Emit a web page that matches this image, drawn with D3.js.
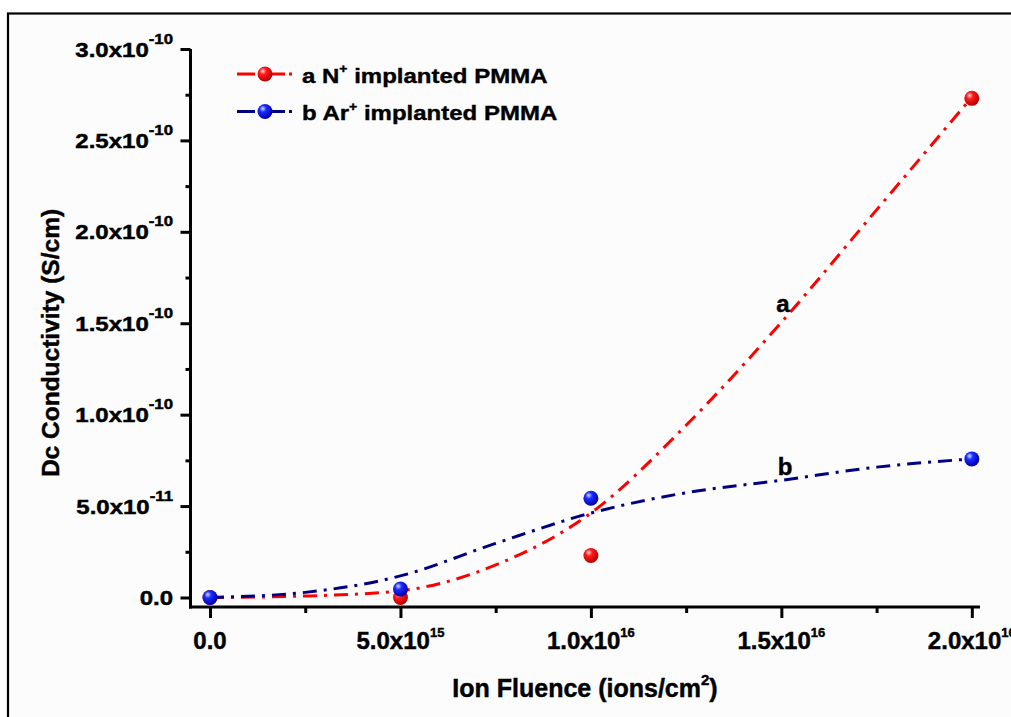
<!DOCTYPE html>
<html>
<head>
<meta charset="utf-8">
<script src="https://cdn.jsdelivr.net/npm/d3@7"></script>
<style>
  html, body { margin: 0; padding: 0; background: #fff; }
  text { font-family: "Liberation Sans", Arial, sans-serif; font-weight: bold; fill: #000; stroke: #000; stroke-width: 0.45px; }
</style>
</head>
<body>
<svg width="1011" height="717"></svg>
<script>
// fluence values (ions/cm2)
const fluence = [0, 5e15, 1e16, 2e16]
// measured conductivity (S/cm)
const condN = [0, 0, 2.3e-11, 2.73e-10]
const condAr = [0, 0.46e-11, 5.43e-11, 7.58e-11]

// fitted curves
const fitX = [0, 2.5e15, 5e15, 7.5e15, 1e16, 1.25e16, 1.5e16, 1.75e16, 2e16]
const fitN = [0, 0.08e-11, 0.37e-11, 1.78e-11, 4.62e-11, 9.42e-11, 15.05e-11, 21.2e-11, 27.36e-11]
const fitAr = [0, 0.28e-11, 1.18e-11, 2.96e-11, 4.62e-11, 5.73e-11, 6.41e-11, 7.13e-11, 7.58e-11]

const xTicks = [0, 5e15, 1e16, 1.5e16, 2e16]
const xMinor = [2.5e15, 7.5e15, 1.25e16, 1.75e16]
const xTickLabels = [["0.0", ""], ["5.0x10", "15"], ["1.0x10", "16"], ["1.5x10", "16"], ["2.0x10", "16"]]
const yTicks = [0, 5e-11, 1e-10, 1.5e-10, 2e-10, 2.5e-10, 3e-10]
const yMinor = [2.5e-11, 7.5e-11, 1.25e-10, 1.75e-10, 2.25e-10, 2.75e-10]
const yTickLabels = [["0.0", ""], ["5.0x10", "-11"], ["1.0x10", "-10"], ["1.5x10", "-10"], ["2.0x10", "-10"], ["2.5x10", "-10"], ["3.0x10", "-10"]]

const seriesNames = ["a N", "b Ar"]
const seriesColors = ["#ff0000", "#000080"]

let svg = d3.select('svg')

const x = d3.scaleLinear().domain([-5.25e14, 2.0215e16]).range([190, 980])
const y = d3.scaleLinear().domain([-5.2e-12, 3.0e-10]).range([607, 49])

// background + frame
svg.append("rect").attr("x", 8).attr("y", 13.5).attr("width", 1100).attr("height", 800)
	.attr("fill", "#fcfcfc").attr("stroke", "#000").attr("stroke-width", 2.2)

// sphere gradients
const defs = svg.append("defs")
function sphere(id, hi, mid, edge) {
	const g = defs.append("radialGradient").attr("id", id)
		.attr("cx", "38%").attr("cy", "35%").attr("r", "65%").attr("fx", "35%").attr("fy", "30%")
	g.append("stop").attr("offset", "0%").attr("stop-color", hi)
	g.append("stop").attr("offset", "35%").attr("stop-color", mid)
	g.append("stop").attr("offset", "100%").attr("stop-color", edge)
}
sphere("ballRed", "#ffd6d6", "#ff1a1a", "#b80000")
sphere("ballBlue", "#cfdcff", "#1a2cff", "#0000a8")
const balls = ["url(#ballRed)", "url(#ballBlue)"]

// axes
const axG = svg.append("g")
const xAxis = axG.append("g").attr("transform", "translate(0,607)")
	.call(d3.axisBottom(x).tickValues(xTicks).tickSize(11).tickSizeOuter(0).tickFormat(""))
const xAxisMinor = axG.append("g").attr("transform", "translate(0,607)")
	.call(d3.axisBottom(x).tickValues(xMinor).tickSize(6).tickSizeOuter(0).tickFormat(""))
const yAxis = axG.append("g").attr("transform", "translate(190.5,0)")
	.call(d3.axisLeft(y).tickValues(yTicks).tickSize(10).tickSizeOuter(0).tickFormat(""))
const yAxisMinor = axG.append("g").attr("transform", "translate(190.5,0)")
	.call(d3.axisLeft(y).tickValues(yMinor).tickSize(5).tickSizeOuter(0).tickFormat(""))
axG.selectAll(".domain").attr("stroke", "#000").attr("stroke-width", 3)
axG.selectAll(".tick line").attr("stroke", "#000").attr("stroke-width", 3)
xAxisMinor.select(".domain").remove()
yAxisMinor.select(".domain").remove()
// make the axes meet at the corner
xAxis.select(".domain").attr("d", `M${190.5 - 1.5},0H980`)
yAxis.select(".domain").attr("d", `M0,${y(3e-10)}V${607 + 1.5}`)

// tick labels
yTicks.forEach((v, i) => {
	const t = svg.append("g").attr("transform", `translate(173,${y(v) + 7.6}) scale(1.2,1)`)
		.append("text").attr("text-anchor", "end").attr("font-size", 20)
	t.append("tspan").text(yTickLabels[i][0])
	if (yTickLabels[i][1]) t.append("tspan").attr("font-size", 14).attr("dy", -13).text(yTickLabels[i][1])
})
xTicks.forEach((v, i) => {
	const t = svg.append("text").attr("x", x(v)).attr("y", 649)
		.attr("text-anchor", "middle").attr("font-size", 24)
	t.append("tspan").text(xTickLabels[i][0])
	if (xTickLabels[i][1]) t.append("tspan").attr("font-size", 13).attr("dy", -12).text(xTickLabels[i][1])
})

// axis titles
const xt = svg.append("text").attr("x", 585).attr("y", 697).attr("text-anchor", "middle").attr("font-size", 25)
xt.append("tspan").text("Ion Fluence (ions/cm")
xt.append("tspan").attr("font-size", 15).attr("dy", -12).text("2")
xt.append("tspan").attr("dy", 12).text(")")

svg.append("text").attr("transform", "translate(58.5,343) rotate(-90)")
	.attr("text-anchor", "middle").attr("font-size", 24.5)
	.text("Dc Conductivity (S/cm)")

// fitted curves
const line = d3.line().x(d => x(d[0])).y(d => y(d[1])).curve(d3.curveMonotoneX)
const fits = [fitN, fitAr]
fits.forEach((f, s) => {
	svg.append("path")
		.attr("d", line(fitX.map((v, i) => [v, f[i]])))
		.attr("fill", "none")
		.attr("stroke", seriesColors[s])
		.attr("stroke-width", 3)
		.attr("stroke-dasharray", "14,7,3,7")
})

// data points
const pts = [condN, condAr]
pts.forEach((p, s) => {
	svg.append("g").selectAll("circle")
		.data(fluence.map((v, i) => [v, p[i]]))
		.join("circle")
		.attr("cx", d => x(d[0]))
		.attr("cy", d => y(d[1]))
		.attr("r", 7.5)
		.attr("fill", balls[s])
})

// curve labels
svg.append("text").attr("x", 783).attr("y", 312).attr("text-anchor", "middle").attr("font-size", 24).text("a")
svg.append("text").attr("x", 785).attr("y", 475).attr("text-anchor", "middle").attr("font-size", 24).text("b")

// legend
const legendY = [74, 111.5]
seriesNames.forEach((name, s) => {
	const g = svg.append("g")
	g.append("line").attr("x1", 237).attr("x2", 294).attr("y1", legendY[s]).attr("y2", legendY[s])
		.attr("stroke", seriesColors[s]).attr("stroke-width", 3)
		.attr("stroke-dasharray", "18,17,13,4,3,20")
	g.append("circle").attr("cx", 265).attr("cy", legendY[s]).attr("r", 7.5).attr("fill", balls[s])
	const t = g.append("g").attr("transform", `translate(302,${legendY[s] + 8.5}) scale(1,0.85)`)
		.append("text").attr("font-size", 24)
	t.append("tspan").text(name)
	t.append("tspan").attr("font-size", 14).attr("dy", -11).text("+")
	t.append("tspan").attr("dy", 11).text(" implanted PMMA")
})
</script>
</body>
</html>
